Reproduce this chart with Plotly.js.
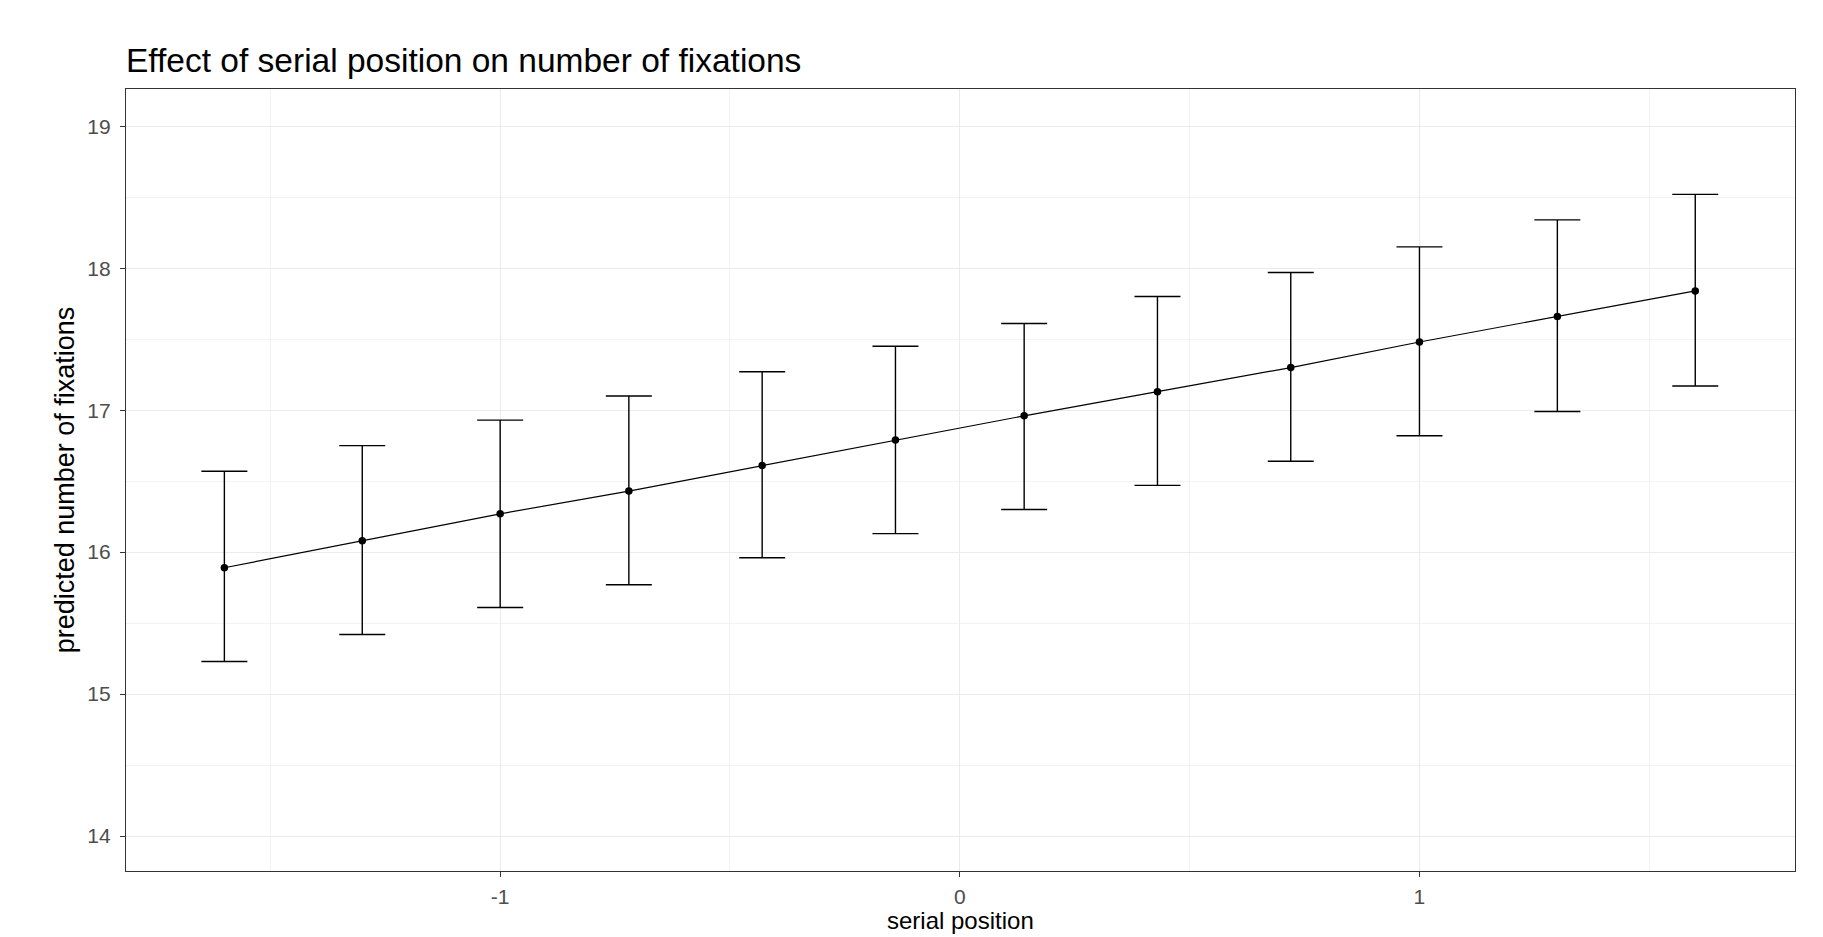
<!DOCTYPE html>
<html>
<head>
<meta charset="utf-8">
<script src="https://cdn.plot.ly/plotly-3.0.1.min.js"></script>
<style>html,body{margin:0;padding:0;background:#fff;}#chart{width:1823px;height:937px;}</style>
</head>
<body>
<div id="chart"></div>
<script>
// serial position (standardized)
var serialPosition = [-1.60, -1.30, -1.00, -0.72, -0.43, -0.14, 0.14, 0.43, 0.72, 1.00, 1.30, 1.60];
// predicted number of fixations
var predicted = [15.89, 16.08, 16.27, 16.43, 16.61, 16.79, 16.96, 17.13, 17.30, 17.48, 17.66, 17.84];
var upper = [16.57, 16.75, 16.93, 17.10, 17.27, 17.45, 17.61, 17.80, 17.97, 18.15, 18.34, 18.52];
var lower = [15.23, 15.42, 15.61, 15.77, 15.96, 16.13, 16.30, 16.47, 16.64, 16.82, 16.99, 17.17];
var xTickVals = [-1, 0, 1];
var yTickVals = [14, 15, 16, 17, 18, 19];

var errPlus = predicted.map(function (v, i) { return upper[i] - v; });
var errMinus = predicted.map(function (v, i) { return v - lower[i]; });

var trace = {
  x: serialPosition,
  y: predicted,
  type: 'scatter',
  mode: 'lines+markers',
  line: {color: '#000000', width: 1.2},
  marker: {color: '#000000', size: 7.5},
  error_y: {
    type: 'data',
    symmetric: false,
    array: errPlus,
    arrayminus: errMinus,
    color: '#000000',
    thickness: 1.4,
    width: 23
  },
  hoverinfo: 'x+y'
};

var fontFam = '"Liberation Sans", Arial, sans-serif';

var layout = {
  width: 1823,
  height: 937,
  paper_bgcolor: '#ffffff',
  plot_bgcolor: '#ffffff',
  showlegend: false,
  margin: {l: 126, r: 28, t: 89, b: 66},
  title: {
    text: 'Effect of serial position on number of fixations',
    font: {family: fontFam, size: 33.5, color: '#000000'},
    xref: 'paper', x: 0, xanchor: 'left',
    yref: 'container', y: 0.936, yanchor: 'middle'
  },
  xaxis: {
    range: [-1.814, 1.817],
    tickvals: xTickVals,
    ticktext: xTickVals.map(String),
    ticks: 'outside', ticklen: 5, tickwidth: 1, tickcolor: '#333333',
    ticklabelstandoff: 2,
    tickfont: {family: fontFam, size: 21, color: '#4D4D4D'},
    showgrid: true, gridcolor: '#EBEBEB', gridwidth: 1.1,
    minor: {dtick: 0.5, tick0: 0, showgrid: true, gridcolor: '#EBEBEB', gridwidth: 0.6, ticks: ''},
    zeroline: false,
    showline: true, linecolor: '#333333', linewidth: 1.2, mirror: true
  },
  yaxis: {
    range: [13.754, 19.262],
    tickvals: yTickVals,
    ticktext: yTickVals.map(String),
    ticks: 'outside', ticklen: 5, tickwidth: 1, tickcolor: '#333333',
    ticklabelstandoff: 5,
    tickfont: {family: fontFam, size: 21, color: '#4D4D4D'},
    showgrid: true, gridcolor: '#EBEBEB', gridwidth: 1.1,
    minor: {dtick: 0.5, tick0: 0, showgrid: true, gridcolor: '#EBEBEB', gridwidth: 0.6, ticks: ''},
    zeroline: false,
    showline: true, linecolor: '#333333', linewidth: 1.2, mirror: true,
    title: {text: 'predicted number of fixations', font: {family: fontFam, size: 27, color: '#000000'}, standoff: 4}
  },
  annotations: [{
    text: 'serial position',
    xref: 'paper', yref: 'paper', x: 0.5, y: 0,
    xanchor: 'center', yanchor: 'top', yshift: -34,
    showarrow: false,
    font: {family: fontFam, size: 24, color: '#000000'}
  }]
};

Plotly.newPlot('chart', [trace], layout, {displayModeBar: false, staticPlot: true});
</script>
</body>
</html>
